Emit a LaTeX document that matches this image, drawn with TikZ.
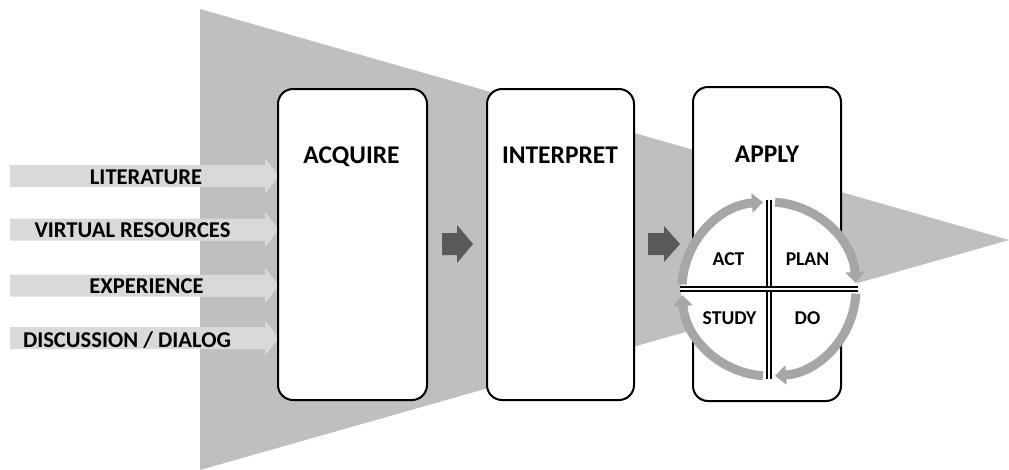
\documentclass[tikz,border=0pt]{standalone}
\usepackage{fontspec}
\setmainfont{Carlito}
\usetikzlibrary{arrows.meta}
\definecolor{trigray}{HTML}{BFBFBF}
\definecolor{ingray}{HTML}{D9D9D9}
\definecolor{darkarrow}{HTML}{595959}
\definecolor{ringgray}{HTML}{A6A6A6}
\tikzset{
  stagebox/.style={draw=black, line width=2pt, fill=white, rounded corners=15pt},
  inlabel/.style={font=\fontsize{22.6}{24}\selectfont\bfseries, anchor=base, inner sep=0pt},
  titlelabel/.style={font=\fontsize{25.5}{27}\selectfont\bfseries, anchor=base, inner sep=0pt},
  quadlabel/.style={font=\fontsize{19.6}{21}\selectfont\bfseries, anchor=base, inner sep=0pt},
  ringarrow/.style={draw=ringgray, line width=9pt, -{Triangle[width=19pt,length=11pt]}},
  crossline/.style={draw=black, line width=2.2pt, double=white, double distance=2pt},
}
\begin{document}
\begin{tikzpicture}[x=1pt, y=-1pt]
\useasboundingbox (0,0) rectangle (1009,469);
% big funnel
\fill[trigray] (200,9) -- (1009,240) -- (200,470) -- cycle;
% input arrows
\foreach \yy in {176,229.5,285.5,338}{
  \fill[ingray] (10,\yy-11) -- (265,\yy-11) -- (265,\yy-17.5) -- (279,\yy) -- (265,\yy+17.5) -- (265,\yy+11) -- (10,\yy+11) -- cycle;
}
\node[inlabel] (lit) at (146,184) {LITERATURE};
\node[inlabel] (vir) at (132.5,237) {VIRTUAL RESOURCES};
\node[inlabel] (exp) at (146.5,293) {EXPERIENCE};
\node[inlabel] (dis) at (127,347) {DISCUSSION / DIALOG};
% stage boxes
\draw[stagebox] (278,89) rectangle (427,400);
\draw[stagebox] (487,89) rectangle (634,400);
\draw[stagebox] (693,87) rectangle (841,401);
\node[titlelabel] (acq) at (351.5,163) {ACQUIRE};
\node[titlelabel] (int) at (560,163) {INTERPRET};
\node[titlelabel] (app) at (767,162) {APPLY};
% dark arrows between boxes
\fill[darkarrow] (442,233) -- (457,233) -- (457,225) -- (473,244) -- (457,263) -- (457,255) -- (442,255) -- cycle;
\fill[darkarrow] (648,233) -- (664,233) -- (664,226) -- (680,244) -- (664,262) -- (664,255) -- (648,255) -- cycle;
% PDCA circle
\coordinate (c) at (769,289);
\fill[white] (c) circle (88);
\draw[crossline] (769,200) -- (769,379);
\draw[crossline] (680,289) -- (858,289);
% y axis points down: screen top is -90 deg, clockwise = increasing angle
\draw[ringarrow] ([shift={(-86:87)}]c) arc[start angle=-86, end angle=-4, radius=87];
\draw[ringarrow] ([shift={(3:87)}]c) arc[start angle=3, end angle=86, radius=87];
\draw[ringarrow] ([shift={(94:87)}]c) arc[start angle=94, end angle=176, radius=87];
\draw[ringarrow] ([shift={(183:87)}]c) arc[start angle=183, end angle=266, radius=87];
\node[quadlabel] (act) at (728.5,265) {ACT};
\node[quadlabel] (plan) at (807.5,265) {PLAN};
\node[quadlabel] (study) at (729.5,324) {STUDY};
\node[quadlabel] (do) at (807.5,324) {DO};
\end{tikzpicture}
\end{document}
